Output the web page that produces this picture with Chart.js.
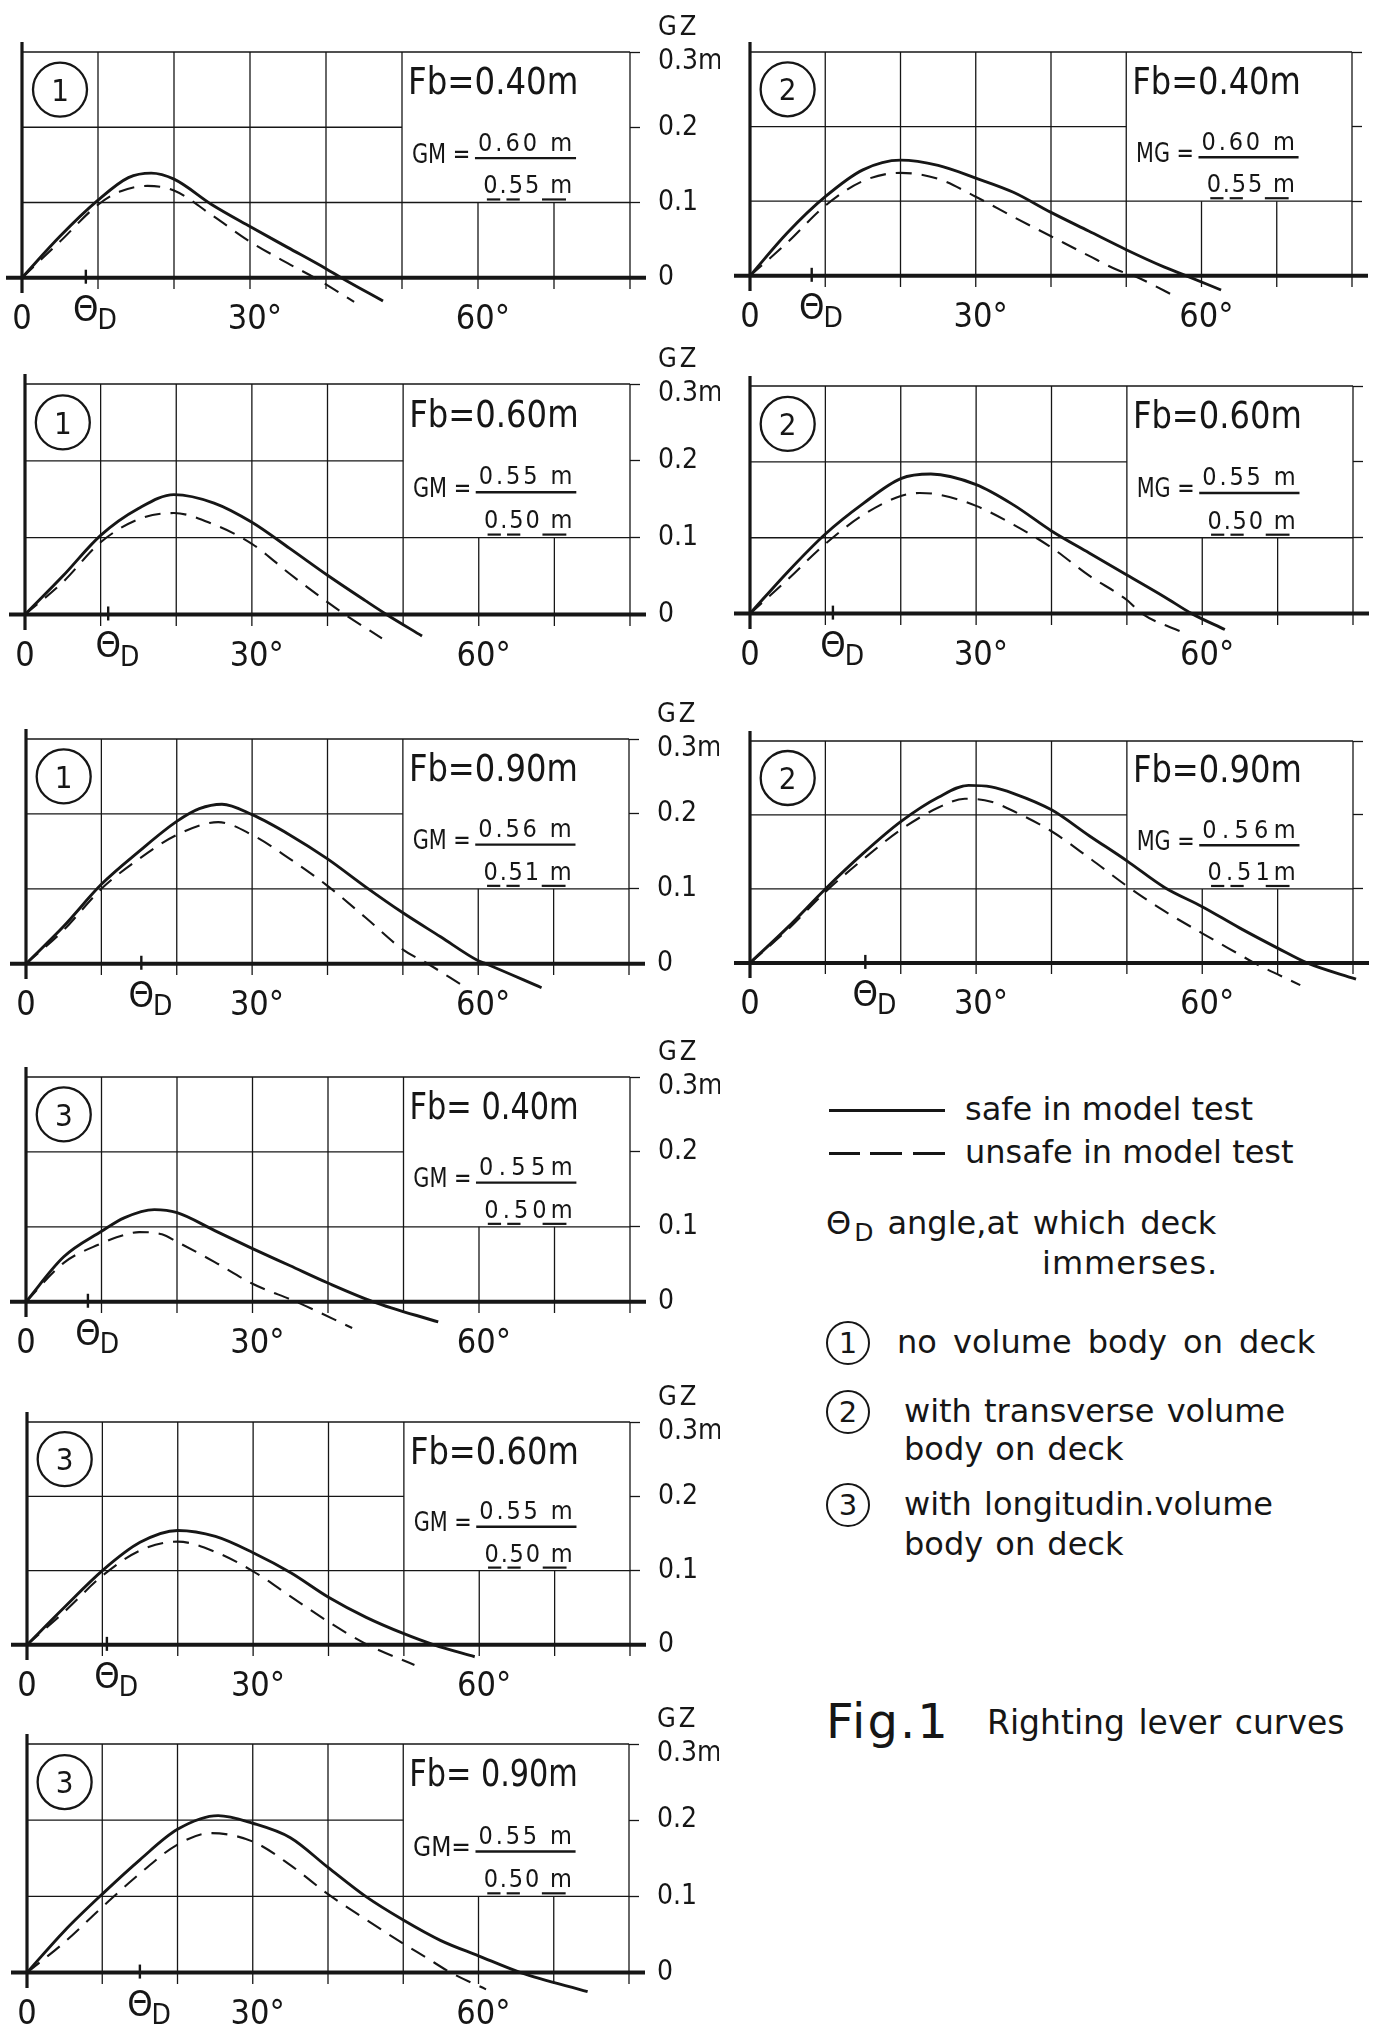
<!DOCTYPE html>
<html>
<head>
<meta charset="utf-8">
<script src="https://cdn.jsdelivr.net/npm/chart.js@4.4.1/dist/chart.umd.min.js"></script>
<style>
  html, body { margin: 0; padding: 0; background: #fff; }
  body { width: 1383px; height: 2030px; position: relative; overflow: hidden;
         font-family: "DejaVu Sans", sans-serif; color: #161616; }
  canvas { position: absolute; }
  .lg { position: absolute; white-space: nowrap; line-height: 1; }
  .rule { position: absolute; height: 0; border-top: 3px solid #161616; }
  .ring { position: absolute; width: 40px; height: 40px; border: 2.4px solid #161616; border-radius: 50%;
          font-size: 29px; line-height: 40px; text-align: center; }
</style>
</head>
<body>
<script>
// ---- data: heel angle (deg), GZ (m) ----
const safe1_040 = [[0,0],[5,0.055],[10,0.103],[14,0.133],[17,0.139],[20,0.131],[25,0.097],[30,0.068],[35,0.040],[40,0.012],[42,0],[47.5,-0.031]];
const unsafe1_040 = [[0,0],[5,0.048],[10,0.097],[13,0.115],[16.5,0.122],[20,0.116],[25,0.083],[30,0.048],[35,0.019],[38.5,0],[43.7,-0.032]];
const safe1_060 = [[0,0],[5,0.050],[10,0.103],[15,0.138],[19.7,0.156],[25,0.145],[30,0.120],[35,0.086],[40,0.051],[45,0.018],[47.8,0],[52.5,-0.028]];
const unsafe1_060 = [[0,0],[5,0.042],[10,0.094],[15,0.124],[19.7,0.132],[25,0.117],[30,0.092],[35,0.053],[40,0.016],[42.3,0],[47.2,-0.031]];
const safe1_090 = [[0,0],[5,0.050],[10,0.106],[15,0.150],[20,0.190],[23,0.207],[26,0.213],[30,0.199],[35,0.172],[40,0.140],[45,0.103],[50,0.068],[55,0.036],[60,0.004],[61,0],[68.4,-0.032]];
const unsafe1_090 = [[0,0],[5,0.045],[10,0.100],[15,0.140],[20,0.172],[25.5,0.189],[30,0.172],[35,0.140],[40,0.104],[45,0.062],[50,0.019],[53.3,0],[57.6,-0.027]];
const safe2_040 = [[0,0],[5,0.058],[10,0.106],[15,0.142],[20,0.155],[25,0.148],[30,0.131],[35,0.112],[40,0.085],[45,0.060],[50,0.035],[55,0.012],[58,0],[62.6,-0.019]];
const unsafe2_040 = [[0,0],[5,0.045],[10,0.094],[15,0.127],[20,0.138],[25,0.130],[30,0.106],[35,0.079],[40,0.053],[45,0.027],[49,0.007],[51,0],[57,-0.030]];
const safe2_060 = [[0,0],[5,0.055],[10,0.105],[15,0.145],[20,0.178],[24,0.184],[30,0.170],[35,0.143],[40,0.109],[45,0.080],[50,0.051],[55,0.022],[58.6,0],[63,-0.021]];
const unsafe2_060 = [[0,0],[5,0.045],[10,0.092],[15,0.130],[20,0.155],[22.5,0.159],[25,0.157],[30,0.142],[35,0.117],[40,0.087],[45,0.050],[50,0.018],[52,0],[57.5,-0.025]];
const safe2_090 = [[0,0],[5,0.048],[10,0.100],[15,0.148],[20,0.191],[25,0.224],[29,0.240],[32,0.238],[35,0.229],[40,0.207],[45,0.172],[50,0.138],[55,0.102],[60,0.076],[65,0.047],[70,0.020],[73.9,0],[80.4,-0.022]];
const unsafe2_090 = [[0,0],[5,0.045],[10,0.096],[15,0.140],[20,0.180],[25,0.210],[28.5,0.222],[32,0.218],[35,0.205],[40,0.178],[45,0.142],[50,0.104],[55,0.070],[60,0.040],[65,0.011],[66.9,0],[73,-0.030]];
const safe3_040 = [[0,0],[5,0.060],[10,0.094],[13,0.112],[17,0.123],[20,0.119],[25,0.095],[30,0.071],[35,0.048],[40,0.025],[46,0],[54.6,-0.027]];
const unsafe3_040 = [[0,0],[5,0.052],[10,0.078],[12,0.086],[15,0.093],[18,0.090],[20,0.080],[25,0.053],[30,0.024],[35.8,0],[43.2,-0.035]];
const safe3_060 = [[0,0],[5,0.051],[10,0.100],[15,0.138],[20,0.154],[25,0.146],[30,0.124],[35,0.097],[40,0.064],[45,0.037],[50,0.015],[54,0],[59.4,-0.016]];
const unsafe3_060 = [[0,0],[5,0.045],[10,0.093],[15,0.127],[20,0.139],[25,0.125],[30,0.099],[35,0.065],[40,0.031],[45.2,0],[51.4,-0.027]];
const safe3_090 = [[0,0],[5,0.055],[10,0.103],[15,0.148],[20,0.188],[25.4,0.206],[30,0.196],[35,0.177],[40,0.138],[45,0.100],[50,0.069],[55,0.042],[60,0.022],[65.6,0],[74.5,-0.025]];
const unsafe3_090 = [[0,0],[5,0.040],[10,0.086],[15,0.130],[20,0.168],[24.4,0.183],[30,0.172],[35,0.141],[40,0.103],[45,0.070],[50,0.038],[53,0.020],[56.3,0],[61,-0.022]];

// panel order: case 1 (left, rows 1-3), case 2 (right, rows 1-3), case 3 (left, rows 4-6)
const safeCurves = [safe1_040, safe1_060, safe1_090, safe2_040, safe2_060, safe2_090, safe3_040, safe3_060, safe3_090];
const unsafeCurves = [unsafe1_040, unsafe1_060, unsafe1_090, unsafe2_040, unsafe2_060, unsafe2_090, unsafe3_040, unsafe3_060, unsafe3_090];
const caseNo = ["1", "1", "1", "2", "2", "2", "3", "3", "3"];
const fbText = ["Fb=0.40m", "Fb=0.60m", "Fb=0.90m", "Fb=0.40m", "Fb=0.60m", "Fb=0.90m", "Fb= 0.40m", "Fb=0.60m", "Fb= 0.90m"];
const gmText = ["GM =", "GM =", "GM =", "MG =", "MG =", "MG =", "GM =", "GM =", "GM="];
const gmSafe = ["0.60 m", "0.55 m", "0.56 m", "0.60 m", "0.55 m", "0.56m", "0.55m", "0.55 m", "0.55 m"];
const gmUnsafe = ["0.55 m", "0.50 m", "0.51 m", "0.55 m", "0.50 m", "0.51m", "0.50m", "0.50 m", "0.50 m"];
const thetaD = [8.4, 11, 15.3, 8.2, 11, 15.3, 8.2, 10.6, 15];

const xGridTicks = [0, 10, 20, 30, 40, 50, 60, 70, 80];
const xLabelAngles = [0, 30, 60];
const xLabelTexts = ["0", " 30°", " 60°"];
const yGridTicks = [0, 0.1, 0.2, 0.3];
const yLabelTexts = ["0", "0.1", "0.2", ["", "0.3m"]];

const seriesNames = ["safe in model test", "unsafe in model test"];
const caseNames = [["no volume body on deck"], ["with transverse volume", "body on deck"], ["with longitudin.volume", "body on deck"]];
const thetaNote = ["angle,at which deck", "immerses."];

// ---- layout ----
const frames = [
  { x0: 22, x80: 630, top: 52, zero: 278, labels: true },
  { x0: 25, x80: 630, top: 384, zero: 614, labels: true },
  { x0: 26, x80: 629, top: 739, zero: 964, labels: true },
  { x0: 750, x80: 1352, top: 52, zero: 276, labels: false },
  { x0: 750, x80: 1353, top: 386, zero: 614, labels: false },
  { x0: 750, x80: 1353, top: 741, zero: 963, labels: false },
  { x0: 26, x80: 630, top: 1077, zero: 1302, labels: true },
  { x0: 27, x80: 630, top: 1422, zero: 1645, labels: true },
  { x0: 27, x80: 629, top: 1744, zero: 1973, labels: true }
];
const labelBoxDeg = [50, 80];
const labelBoxGz = [0.1, 0.3];
const circleAt = [5, 0.25];
const textPos = {
  fb: [50.8, 73.2, 0.262], gm: [51.3, 59.0, 0.166], up: [60.0, 72.4, 0.181],
  bar: [59.6, 72.9, 0.159], low: [60.7, 72.4, 0.124], dash: 0.104
};
const dashParts = [[0.04, 0.19], [0.26, 0.41], [0.66, 0.93]];

const CHART_FONT = '"Liberation Sans Narrow", "DejaVu Sans Condensed", "Arial Narrow", sans-serif';
const INK = "#161616";
Chart.defaults.font.family = CHART_FONT;
Chart.defaults.color = INK;

function strokeLine(ctx, x1, y1, x2, y2, w) {
  ctx.lineWidth = w;
  ctx.beginPath();
  ctx.moveTo(x1, y1);
  ctx.lineTo(x2, y2);
  ctx.stroke();
}

// draw text so that it runs from x1 to x2, centred on yc
function spreadText(ctx, text, x1, x2, yc, size) {
  ctx.font = `${size}px ${CHART_FONT}`;
  ctx.letterSpacing = "0px";
  ctx.textAlign = "left";
  ctx.textBaseline = "alphabetic";
  const w = ctx.measureText(text).width;
  const target = x2 - x1;
  const base = yc + size * 0.36;
  if (w < target && text.length > 1) {
    ctx.letterSpacing = ((target - w) / (text.length - 1)).toFixed(2) + "px";
    ctx.fillText(text, x1, base);
  } else {
    ctx.fillText(text, x1, base, target);
  }
  ctx.letterSpacing = "0px";
}

const gzFrame = {
  id: "gzFrame",
  beforeDatasetsDraw(chart, args, o) {
    const { ctx, chartArea: a, scales: { x, y } } = chart;
    const X = (v) => x.getPixelForValue(v);
    const Y = (v) => y.getPixelForValue(v);
    const xMax = xGridTicks[xGridTicks.length - 1];
    const yMax = yGridTicks[yGridTicks.length - 1];
    ctx.save();
    ctx.strokeStyle = INK;
    ctx.lineCap = "butt";
    xGridTicks.slice(1).forEach((v) => {
      const inBox = v > labelBoxDeg[0] && v < labelBoxDeg[1];
      strokeLine(ctx, X(v), Y(inBox ? labelBoxGz[0] : yMax), X(v), a.bottom, 1.3);
    });
    yGridTicks.slice(1).forEach((v) => {
      const inBox = v > labelBoxGz[0] && v < labelBoxGz[1];
      strokeLine(ctx, X(0), Y(v), X(inBox ? labelBoxDeg[0] : xMax), Y(v), v === yMax ? 1.6 : 1.3);
    });
    // heel axis and GZ = 0 line
    strokeLine(ctx, X(0), Y(yMax) - 10, X(0), a.bottom + 4, 3.2);
    strokeLine(ctx, X(0) - 16, Y(0), X(xMax) + 16, Y(0), 4);
    // deck immersion mark
    strokeLine(ctx, X(o.thetaD), Y(0) - 8, X(o.thetaD), Y(0) + 6, 2.4);
    ctx.restore();
  },
  afterDraw(chart, args, o) {
    const { ctx, scales: { x, y } } = chart;
    const X = (v) => x.getPixelForValue(v);
    const Y = (v) => y.getPixelForValue(v);
    ctx.save();
    ctx.fillStyle = INK;
    ctx.strokeStyle = INK;
    // case number in a ring
    ctx.lineWidth = 2.3;
    ctx.beginPath();
    ctx.arc(X(circleAt[0]), Y(circleAt[1]), 27, 0, Math.PI * 2);
    ctx.stroke();
    ctx.font = `31px ${CHART_FONT}`;
    ctx.textAlign = "center";
    ctx.textBaseline = "alphabetic";
    ctx.fillText(o.caseNo, X(circleAt[0]), Y(circleAt[1]) + 31 * 0.36);
    // freeboard and metacentric heights
    spreadText(ctx, o.fb, X(textPos.fb[0]), X(textPos.fb[1]), Y(textPos.fb[2]), 37);
    spreadText(ctx, o.gm, X(textPos.gm[0]), X(textPos.gm[1]), Y(textPos.gm[2]), 27);
    spreadText(ctx, o.up, X(textPos.up[0]), X(textPos.up[1]), Y(textPos.up[2]), 25);
    strokeLine(ctx, X(textPos.bar[0]), Y(textPos.bar[2]), X(textPos.bar[1]), Y(textPos.bar[2]), 2.4);
    spreadText(ctx, o.low, X(textPos.low[0]), X(textPos.low[1]), Y(textPos.low[2]), 25);
    const l0 = X(textPos.low[0]);
    const lw = X(textPos.low[1]) - l0;
    dashParts.forEach(([f0, f1]) => {
      strokeLine(ctx, l0 + f0 * lw, Y(textPos.dash), l0 + f1 * lw, Y(textPos.dash), 2.2);
    });
    // theta D label
    const tx = X(o.thetaD);
    ctx.font = `36px ${CHART_FONT}`;
    ctx.textAlign = "center";
    ctx.fillText("Θ", tx, Y(0) + 30 + 36 * 0.36);
    const tw = ctx.measureText("Θ").width;
    ctx.font = `28px ${CHART_FONT}`;
    ctx.textAlign = "left";
    ctx.fillText("D", tx + tw / 2 - 1, Y(0) + 41 + 28 * 0.36);
    if (o.labels) {
      ctx.font = `27px ${CHART_FONT}`;
      ctx.letterSpacing = "3px";
      ctx.fillText("GZ", X(xGridTicks[xGridTicks.length - 1]) + 28, Y(yGridTicks[yGridTicks.length - 1]) - 27 + 27 * 0.36);
      ctx.letterSpacing = "0px";
    }
    ctx.restore();
  }
};

function toXY(pairs) {
  return pairs.map(([deg, gz]) => ({ x: deg, y: gz }));
}

const Y_MIN = -0.015;

frames.forEach((f, i) => {
  const padL = 30, padT = 48, axisH = 52;
  const axisW = f.labels ? 90 : 30;
  const plotH = Math.round((f.zero - f.top) * (yGridTicks[3] - Y_MIN) / yGridTicks[3]);
  const cv = document.createElement("canvas");
  cv.width = padL + (f.x80 - f.x0) + axisW;
  cv.height = padT + plotH + axisH;
  cv.style.left = (f.x0 - padL) + "px";
  cv.style.top = (f.top - padT) + "px";
  document.body.appendChild(cv);

  new Chart(cv, {
    type: "line",
    data: {
      datasets: [
        {
          label: seriesNames[0],
          data: toXY(safeCurves[i]),
          borderColor: INK,
          borderWidth: 2.9,
          pointRadius: 0,
          tension: 0.4,
          cubicInterpolationMode: "monotone",
          clip: false
        },
        {
          label: seriesNames[1],
          data: toXY(unsafeCurves[i]),
          borderColor: INK,
          borderWidth: 2.1,
          borderDash: [16, 10],
          pointRadius: 0,
          tension: 0.4,
          cubicInterpolationMode: "monotone",
          clip: false
        }
      ]
    },
    options: {
      responsive: false,
      animation: false,
      events: [],
      layout: { padding: { left: padL, top: padT, right: 0, bottom: 0 } },
      plugins: {
        legend: { display: false },
        tooltip: { enabled: false },
        gzFrame: {
          caseNo: caseNo[i],
          fb: fbText[i],
          gm: gmText[i],
          up: gmSafe[i],
          low: gmUnsafe[i],
          thetaD: thetaD[i],
          labels: f.labels
        }
      },
      scales: {
        x: {
          type: "linear",
          min: xGridTicks[0],
          max: xGridTicks[xGridTicks.length - 1],
          grid: { display: false },
          border: { display: false },
          afterBuildTicks: (s) => { s.ticks = xGridTicks.map((v) => ({ value: v })); },
          afterFit: (s) => { s.height = axisH; },
          ticks: {
            autoSkip: false,
            maxRotation: 0,
            padding: 3,
            font: { size: 34 },
            callback: (v) => {
              const k = xLabelAngles.indexOf(v);
              return k >= 0 ? xLabelTexts[k] : "";
            }
          }
        },
        y: {
          type: "linear",
          position: "right",
          min: Y_MIN,
          max: yGridTicks[yGridTicks.length - 1],
          grid: { drawOnChartArea: false, drawTicks: true, tickLength: 10, tickColor: INK, tickWidth: 1.3 },
          border: { display: false },
          afterBuildTicks: (s) => { s.ticks = yGridTicks.map((v) => ({ value: v })); },
          afterFit: (s) => { s.width = axisW; },
          ticks: {
            display: f.labels,
            padding: 18,
            font: { size: 28, lineHeight: 0.72 },
            callback: (v) => {
              const k = yGridTicks.indexOf(v);
              return k >= 0 ? yLabelTexts[k] : "";
            }
          }
        }
      }
    },
    plugins: [gzFrame]
  });
});

// ---- legend and caption ----
function addText(html, left, cy, size, extra) {
  const d = document.createElement("div");
  d.className = "lg";
  d.innerHTML = html;
  d.style.left = left + "px";
  d.style.top = Math.round(cy - size * 0.47) + "px";
  d.style.fontSize = size + "px";
  if (extra) Object.assign(d.style, extra);
  document.body.appendChild(d);
  return d;
}
function addRule(x1, x2, y) {
  const r = document.createElement("div");
  r.className = "rule";
  r.style.left = x1 + "px";
  r.style.width = (x2 - x1) + "px";
  r.style.top = (y - 1) + "px";
  document.body.appendChild(r);
}
function addRing(label, cx, cy) {
  const r = document.createElement("div");
  r.className = "ring";
  r.textContent = label;
  r.style.left = (cx - 22) + "px";
  r.style.top = (cy - 22) + "px";
  document.body.appendChild(r);
}

addRule(829, 945, 1110);
addText(seriesNames[0], 965, 1108, 32);
addRule(829, 860, 1153);
addRule(870, 902, 1153);
addRule(913, 945, 1153);
addText(seriesNames[1], 965, 1151, 32);

addText('Θ<span style="font-size:25px;position:relative;top:7px;margin:0 14px 0 3px">D</span>' + thetaNote[0], 826, 1222, 32, { wordSpacing: "4px" });
addText(thetaNote[1], 1042, 1262, 32, { letterSpacing: "1px" });

const caseRows = [[1343], [1412, 1450], [1505, 1545]];
caseNames.forEach((lines, k) => {
  addRing(String(k + 1), 848, caseRows[k][0]);
  lines.forEach((txt, j) => {
    addText(txt, k === 0 ? 897 : 904, caseRows[k][j] - 2, 32, { wordSpacing: k === 0 ? "6px" : "2px" });
  });
});

addText("Fig.1", 826, 1720, 48, { letterSpacing: "2px" });
addText("Righting lever curves", 987, 1722, 33, { wordSpacing: "3px" });
</script>
</body>
</html>
